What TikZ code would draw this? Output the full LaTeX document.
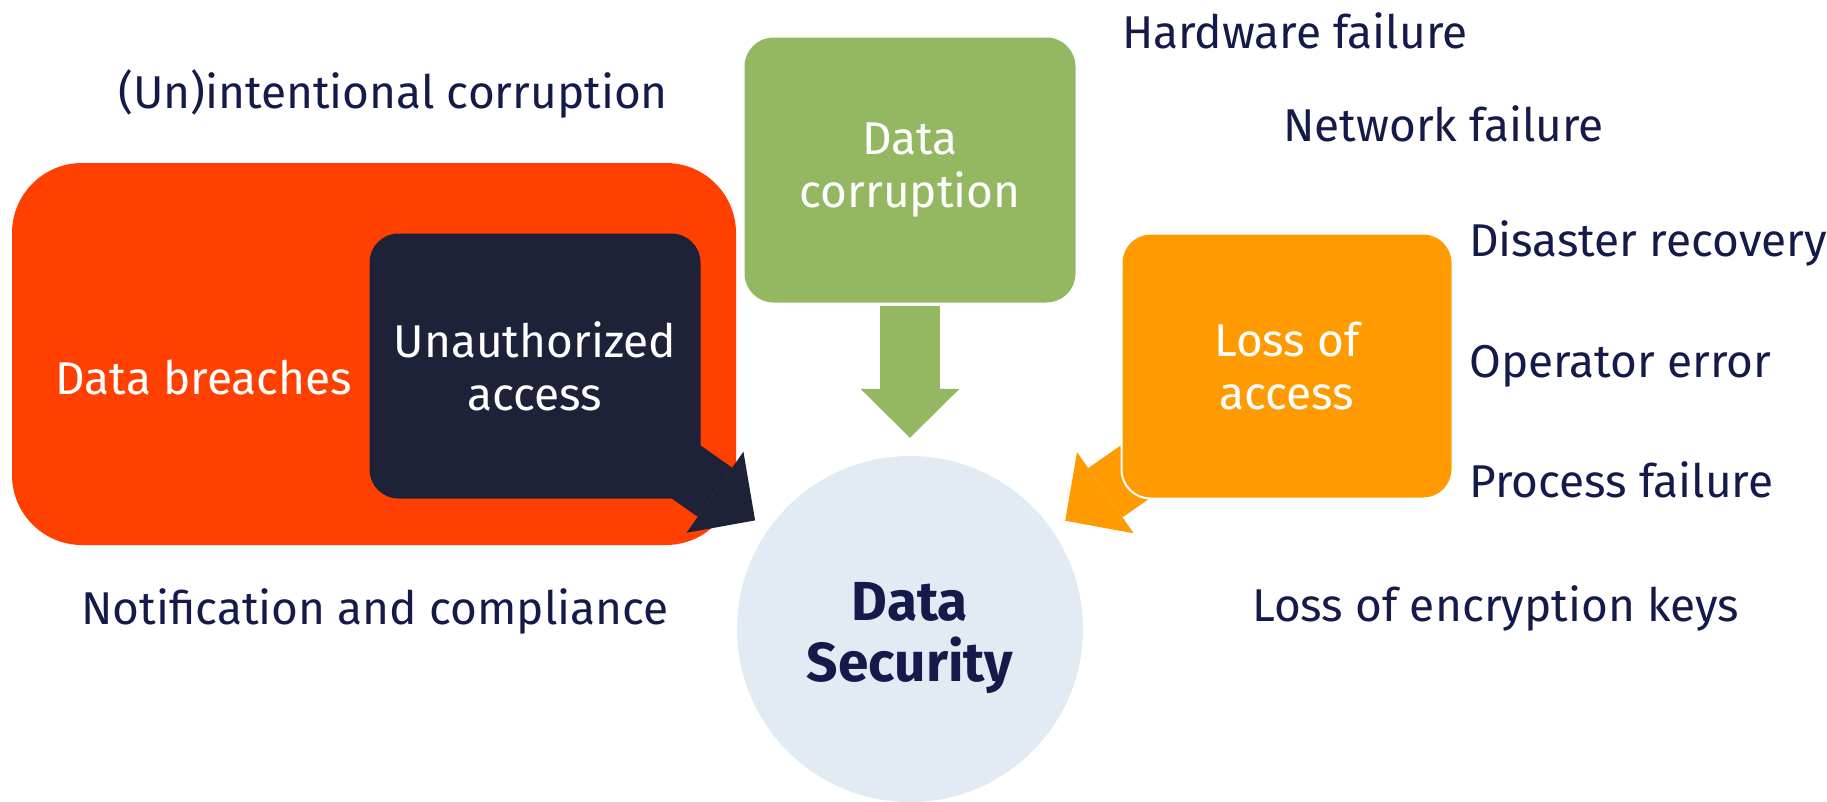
\documentclass[tikz,border=0pt]{standalone}
\usepackage{fontspec}
\setmainfont{Fira Sans}
\usetikzlibrary{positioning,arrows.meta}
\definecolor{breachred}{HTML}{FF4000}
\definecolor{boxnavy}{HTML}{1E2239}
\definecolor{corrgreen}{HTML}{94B862}
\definecolor{lossorange}{HTML}{FF9B00}
\definecolor{secblue}{HTML}{E2EBF3}
\definecolor{labelnavy}{HTML}{141A4A}
\pgfdeclarelayer{back}
\pgfdeclarelayer{mid}
\pgfsetlayers{back,mid,main}
\tikzset{box/.style={rectangle,rounded corners=29pt,minimum width=331pt,minimum height=265pt,inner sep=0pt,text=white,align=center,font=\fontsize{46}{53}\selectfont},
	 lbl/.style={text=labelnavy,inner sep=0pt,font=\fontsize{46}{53}\selectfont},
	 bigarrow/.style={line width=60pt,-{Triangle[length=49pt,width=99pt,line width=0pt]}},
	 node distance = 1
	 }

\begin{document}
\begin{tikzpicture}[x=1pt,y=-1pt] % threats around data security
	\useasboundingbox (0,0) rectangle (1827,801);
	\begin{pgfonlayer}{back}
	\node[fill=breachred,rounded corners=70pt,minimum width=724pt,minimum height=382pt] (db) at (374,354) {};
	\end{pgfonlayer}
	\node[box,fill=boxnavy] (ua) at (535,366) {Unauthorized\\access};
	\node[lbl,text=white,anchor=mid] (dbt) at (204,392) {Data breaches};
	\node[box,fill=corrgreen] (dc) at (910,170) {Data\\corruption};
	\node[box,fill=lossorange,draw=white,line width=2pt] (la) at (1287,366) {Loss of\\access};
	\node[circle,fill=secblue,minimum size=346pt,inner sep=0pt,align=center,text=labelnavy,text height=117pt,font=\bfseries\fontsize{55}{61}\selectfont] (ds) at (910,629) {Data\\Security};
	\begin{pgfonlayer}{mid}
	\draw[bigarrow,boxnavy,shorten >=16pt] (ua.center) to (ds);
	\draw[bigarrow,lossorange,shorten >=16pt] (la.center) to (ds);
	\end{pgfonlayer}
	\draw[bigarrow,corrgreen,shorten <=3pt,shorten >=18pt] (dc.south) to (ds);
	\node[lbl,anchor=mid] (uc) at (393,106) {(Un)intentional corruption};
	\node[lbl,anchor=mid] (nc) at (375,622) {Notification and compliance};
	\node[lbl,anchor=mid west] (hw) at (1122,46) {Hardware failure};
	\node[lbl,anchor=mid west] (nf) at (1283,139) {Network failure};
	\node[lbl,anchor=mid west] (dr) at (1469,254) {Disaster recovery};
	\node[lbl] (oe) [below=121pt of dr.mid west,anchor=mid west] {Operator error};
	\node[lbl] (pf) [below=120pt of oe.mid west,anchor=mid west] {Process failure};
	\node[lbl,anchor=mid west] (ek) at (1252,619) {Loss of encryption keys};
\end{tikzpicture}
\end{document}
